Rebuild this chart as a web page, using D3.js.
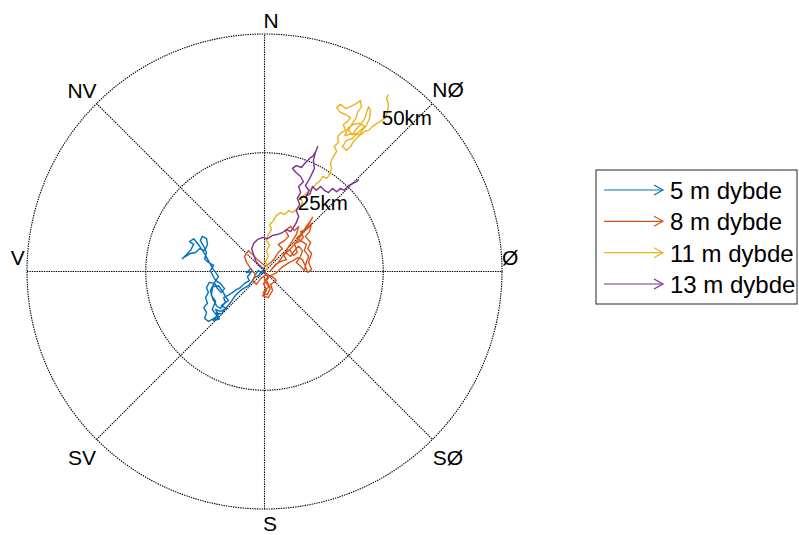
<!DOCTYPE html>
<html>
<head>
<meta charset="utf-8">
<script src="https://cdn.jsdelivr.net/npm/d3@7"></script>
<style>
  body { margin: 0; background: #fff; }
  svg { display: block; font-family: "Liberation Sans", Arial, Helvetica, sans-serif; }
</style>
</head>
<body>
<svg id="chart" width="799" height="535"></svg>
<script>
// drift tracks, km east / km north from release point
var track5 = [[0.2,0],[-0.4,-0.4],[-1.3,0.2],[-1.9,-0.6],[-2.9,0.6],[-3.8,-0.2],[-2.7,0],[-3.6,-1.1],[-3.2,-1.9],
  [-4.2,-2.5],[-5.1,-3.4],[-5.9,-3.8],[-6.7,-4.4],[-7.8,-5.1],[-8.6,-5.5],[-8.2,-6.5],[-9.1,-7.2],[-8.0,-7.8],
  [-9.3,-8.4],[-10.3,-8.0],[-9.7,-9.1],[-10.7,-9.9],[-11.8,-10.5],[-12.6,-9.9],[-12.2,-8.6],[-12.8,-7.6],
  [-12.0,-6.7],[-12.4,-5.5],[-11.8,-4.4],[-12.2,-3.4],[-11.6,-2.3],[-10.5,-2.5],[-9.9,-3.6],[-9.1,-4.4],
  [-8.4,-3.6],[-9.3,-2.5],[-10.3,-1.9],[-10.9,-0.8],[-11.4,0.2],[-10.7,1.3],[-11.8,1.9],[-12.6,2.7],
  [-12.2,4.0],[-12.8,5.3],[-13.5,6.5],[-13.1,7.4],[-12.2,6.9],[-12.0,5.7],[-12.6,4.4],[-13.7,4.8],
  [-14.5,4.0],[-15.6,3.8],[-16.6,3.2],[-17.3,2.7],[-16.4,3.6],[-15.6,4.4],[-14.9,5.7],[-15.8,6.3],
  [-14.9,6.9],[-14.1,5.9],[-13.5,5.1],[-12.4,3.4],[-11.6,1.9],[-10.9,0.6],[-10.3,-0.2],[-9.7,-1.1],
  [-10.5,-2.3],[-11.4,-4.0],[-10.9,-5.7],[-10.1,-7.2],[-9.3,-7.8],[-8.4,-6.7],[-7.6,-6.1],[-8.2,-5.3],
  [-8.8,-4.2],[-9.7,-3.0],[-10.9,-3.2],[-11.2,-5.0],[-10.3,-6.3],[-11.0,-8.0],[-9.9,-9.5],[-10.8,-10.3],
  [-9.5,-10.0],[-10.2,-8.8],[-9.0,-8.9],[-8.4,-8.0],[-7.2,-6.6],[-6.1,-5.0],[-4.8,-3.8],[-3.3,-2.9],
  [-2.1,-1.3],[-1.2,-0.8],[-0.3,0.3]]

var track8 = [[0.2,-0.2],[0.8,-1.5],[-0.2,-2.5],[0.4,-4.0],[-0.4,-5.1],[0.8,-5.5],[1.7,-4.0],[1.3,-2.7],
  [2.5,-1.9],[1.7,-1.1],[0.4,-0.6],[-0.8,-1.5],[-1.7,-2.7],[-2.5,-1.9],[-1.9,-0.6],[-2.9,0.6],[-3.8,1.9],
  [-4.2,3.2],[-3.4,4.4],[-2.5,3.6],[-1.7,2.7],[-0.8,1.9],[0.2,1.1],[1.3,1.9],[2.1,2.7],[2.9,4.0],[3.8,4.8],
  [2.9,5.7],[4.2,6.5],[5.1,7.4],[4.4,8.6],[5.5,9.5],[6.3,8.6],[7.2,9.5],[6.7,7.8],[5.9,6.5],[5.1,5.3],
  [4.4,4.0],[5.5,3.2],[6.3,4.4],[7.2,5.3],[8.0,4.4],[7.6,3.2],[6.7,1.9],[7.6,1.1],[8.4,0.2],[8.8,1.9],
  [9.3,3.2],[8.4,4.4],[8.8,5.7],[7.6,6.5],[6.7,6.9],[8.0,8.2],[8.8,9.5],[9.7,10.7],[10.1,11.4],[9.3,9.9],
  [8.4,8.6],[7.6,7.4],[6.3,5.7],[5.1,4.4],[3.8,3.2],[2.9,1.9],[2.1,1.1],[1.3,0.2],
  [2.3,1.5],[3.4,2.1],[4.6,2.5],[4.0,3.6],[5.3,4.6],[6.1,3.4],[6.9,4.0],[6.3,5.9],[7.4,6.3],[8.2,7.2],
  [7.6,8.4],[9.1,9.1],[9.9,10.1],[9.5,8.4],[8.6,7.4],[9.7,6.1],[9.1,4.8],[9.9,3.8],[9.3,1.9],[9.9,0.4],
  [9.1,-0.2],[8.6,1.1],[8.0,2.5],[7.0,2.9],[6.0,2.3],[4.9,1.7],[3.6,0.8],[2.3,-0.4],[1.1,-0.9],
  [0.0,-1.9],[0.9,-3.2],[-0.3,-4.4],[0.6,-4.9],[1.2,-3.5],[0.5,-2.0]]

var track11 = [[0.2,0],[0.6,1.1],[0.2,2.1],[0.8,3.2],[0.4,4.4],[1.1,5.5],[0.4,6.5],[0.8,7.8],[1.5,8.8],
  [1.1,9.9],[1.9,10.7],[2.5,11.8],[3.4,12.4],[4.2,12.0],[5.1,12.8],[5.9,12.4],[6.7,13.1],[7.4,13.7],
  [8.0,14.5],[7.6,15.6],[8.6,16.2],[9.5,17.1],[10.3,17.7],[10.9,18.5],[11.8,19.2],[12.2,20.0],[13.1,19.6],
  [13.7,20.4],[14.1,21.7],[13.9,22.9],[14.5,24.2],[15.2,25.3],[14.7,26.3],[15.6,27.2],[15.4,28.4],
  [16.2,29.3],[17.1,29.7],[16.6,30.9],[17.5,31.6],[18.1,32.4],[17.1,33.0],[16.0,33.5],[15.2,34.5],
  [16.0,35.2],[17.1,34.3],[18.1,34.7],[19.4,35.4],[20.2,36.0],[20.4,34.7],[19.6,33.5],[19.2,32.2],
  [18.3,30.9],[17.7,29.7],[18.5,28.8],[19.4,30.1],[20.2,30.9],[21.1,32.2],[21.5,33.5],[21.9,34.7],
  [22.3,33.9],[22.1,32.2],[21.5,30.9],[20.6,29.7],[19.8,28.4],[18.9,27.6],[18.1,26.3],[17.3,25.5],
  [16.4,26.3],[17.3,27.6],[18.5,28.0],[19.8,29.3],[21.1,30.5],[20.0,31.2],[18.8,31.0],[17.6,30.2],
  [16.9,28.6],[17.9,28.9],[19.0,29.0],[20.3,28.8],[21.3,29.6],[21.9,29.7],[22.7,30.5],[24.0,31.4],
  [25.3,32.2],[25.9,33.5],[26.1,35.2],[25.7,36.4],[26.1,37.3]]

var track13 = [[0.2,0],[-0.4,0.8],[-1.3,1.5],[-1.9,2.3],[-2.3,3.6],[-2.7,4.8],[-2.3,5.9],[-1.5,6.7],
  [-0.4,7.2],[0.6,6.9],[1.7,7.6],[2.7,7.8],[3.8,8.2],[4.6,8.8],[5.5,8.4],[6.1,9.3],[6.7,10.3],[7.2,11.6],
  [6.7,12.8],[7.4,14.1],[6.9,15.4],[7.6,16.6],[7.2,17.9],[8.2,18.9],[7.6,20.0],[6.7,20.8],[5.9,21.7],
  [6.7,22.3],[7.8,21.9],[8.6,22.9],[9.5,23.8],[10.3,24.4],[10.9,25.5],[11.2,26.3],[10.7,25.0],[10.3,23.4],
  [10.5,21.7],[9.9,20.4],[9.3,19.2],[8.6,18.1],[9.4,17.0],[8.7,15.8],[9.6,16.4],[10.1,17.9],[10.9,17.1],
  [11.8,17.9],[12.6,17.1],[13.5,16.6],[14.3,17.5],[15.2,16.8],[16.0,17.5],[16.8,17.1],[17.7,18.1],
  [18.5,18.5],[19.4,18.9],[19.8,19.4]]

var seriesNames = ["5 m dybde", "8 m dybde", "11 m dybde", "13 m dybde"]
var tracks = [track5, track8, track11, track13]
var colors = ["#0072BD", "#D95319", "#EDB120", "#7E2F8E"]

var rings = [25, 50]
var ringLabels = ["25km", "50km"]
var dirLabels = ["N", "NØ", "Ø", "SØ", "S", "SV", "V", "NV"]
var dirAngles = [0, 45, 90, 135, 180, 225, 270, 315]

var cx = 264.5, cy = 271.5, R = 237.5
var rMax = 50

var svg = d3.select("#chart")

var x = d3.scaleLinear().domain([-rMax, rMax]).range([cx - R, cx + R])
var y = d3.scaleLinear().domain([-rMax, rMax]).range([cy + R, cy - R])
var rpx = function(r) { return x(r) - x(0) }

var grid = svg.append("g")
    .attr("fill", "none")
    .attr("stroke", "#000")
    .attr("stroke-width", 1.1)
    .attr("stroke-dasharray", "1.4,1")

grid.selectAll("circle")
    .data(rings)
  .enter().append("circle")
    .attr("cx", x(0))
    .attr("cy", y(0))
    .attr("r", function(d) { return rpx(d) })

// spokes every 45 deg (compass: clockwise from north)
grid.selectAll("line")
    .data([0, 45, 90, 135])
  .enter().append("line")
    .attr("x1", function(a) { return x(-rMax * Math.sin(a * Math.PI / 180)) })
    .attr("y1", function(a) { return y(-rMax * Math.cos(a * Math.PI / 180)) })
    .attr("x2", function(a) { return x(rMax * Math.sin(a * Math.PI / 180)) })
    .attr("y2", function(a) { return y(rMax * Math.cos(a * Math.PI / 180)) })

// direction labels, small nudges copy where matlab put them
var nudge = [[6.5,-6],[10.5,-8.5],[1,-13.5],[10.5,13.5],[5.5,8],[-9.5,13.5],[-2,-13.5],[-9.5,-7.5]]
var labR = 51.5
svg.append("g").selectAll("text")
    .data(dirLabels)
  .enter().append("text")
    .attr("x", function(d, i) { return x(labR * Math.sin(dirAngles[i] * Math.PI / 180)) + nudge[i][0] })
    .attr("y", function(d, i) { return y(labR * Math.cos(dirAngles[i] * Math.PI / 180)) + nudge[i][1] })
    .attr("text-anchor", "middle")
    .attr("dy", "0.35em")
    .attr("font-size", 21)
    .attr("fill", "#000")
    .text(function(d) { return d })

var line = d3.line()
    .x(function(d) { return x(d[0]) })
    .y(function(d) { return y(d[1]) })

svg.append("g").selectAll("path")
    .data(tracks)
  .enter().append("path")
    .attr("d", line)
    .attr("fill", "none")
    .attr("stroke", function(d, i) { return colors[i] })
    .attr("stroke-width", 1.4)
    .attr("stroke-linejoin", "round")

// ring labels (km east, km north of text start)
var ringLabelPos = [[7.0, 12.9], [24.7, 30.8]]
svg.append("g").selectAll("text")
    .data(ringLabels)
  .enter().append("text")
    .attr("x", function(d, i) { return x(ringLabelPos[i][0]) })
    .attr("y", function(d, i) { return y(ringLabelPos[i][1]) })
    .attr("font-size", 20.5)
    .attr("fill", "#000")
    .text(function(d) { return d })

// legend
var leg = svg.append("g").attr("transform", "translate(596,170)")
leg.append("rect")
    .attr("width", 201)
    .attr("height", 134)
    .attr("fill", "#fff")
    .attr("stroke", "#262626")
    .attr("stroke-width", 1)

var rowY = d3.scalePoint().domain(seriesNames).range([20, 114])

var rows = leg.selectAll(".row")
    .data(seriesNames)
  .enter().append("g")
    .attr("class", "row")
    .attr("transform", function(d) { return "translate(0," + rowY(d) + ")" })

rows.append("line")
    .attr("x1", 8).attr("x2", 67)
    .attr("stroke", function(d, i) { return colors[i] })
    .attr("stroke-width", 1.2)
rows.append("path")
    .attr("d", "M58,-5L67,0L58,5")
    .attr("fill", "none")
    .attr("stroke", function(d, i) { return colors[i] })
    .attr("stroke-width", 1.2)
rows.append("text")
    .attr("x", 74)
    .attr("dy", "0.38em")
    .attr("font-size", 24)
    .attr("fill", "#000")
    .text(function(d) { return d })
</script>
</body>
</html>
